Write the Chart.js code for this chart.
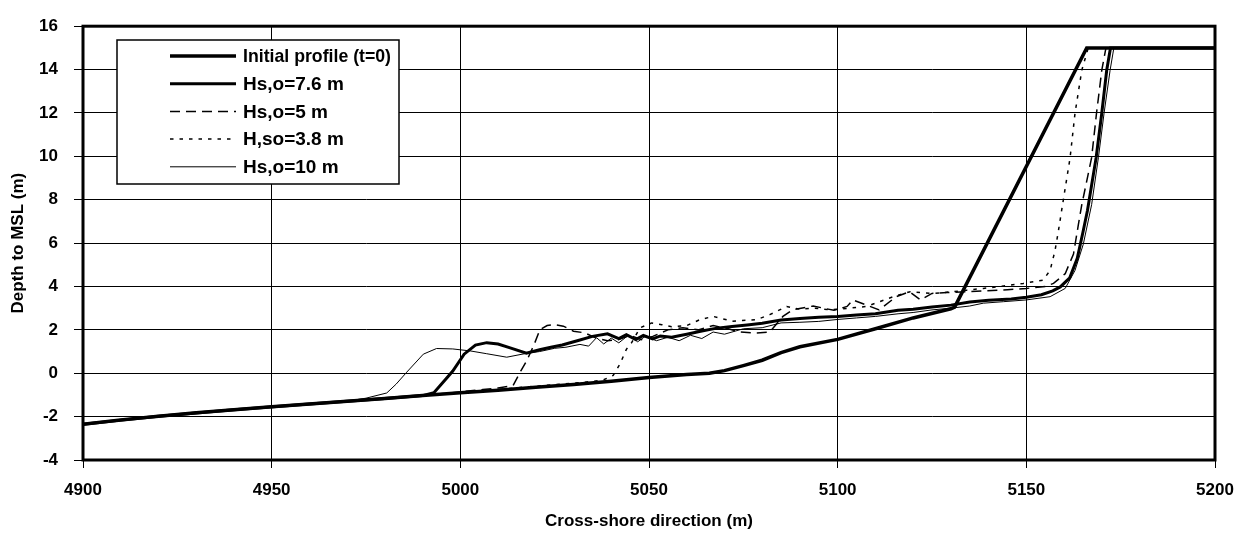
<!DOCTYPE html>
<html>
<head>
<meta charset="utf-8">
<script src="https://cdn.jsdelivr.net/npm/chart.js@4/dist/chart.umd.min.js"></script>
<style>
  html, body { margin: 0; padding: 0; background: #fff; }
  canvas { display: block; }
</style>
</head>
<body>
<canvas id="profileChart" width="1247" height="542"></canvas>
<script>
// Profile data (x = cross-shore position in m, y = depth to MSL in m)
const initialX = [4900, 4910, 4920, 4930, 4940, 4950, 4960, 4970, 4980, 4990, 5000, 5010, 5020, 5030, 5040, 5050, 5060, 5066, 5070, 5075, 5080, 5085, 5090, 5100, 5110, 5120, 5130, 5131, 5166, 5200];
const initialY = [-2.35, -2.15, -1.98, -1.82, -1.68, -1.55, -1.42, -1.29, -1.16, -1.03, -0.9, -0.78, -0.65, -0.52, -0.37, -0.2, -0.06, 0.0, 0.12, 0.35, 0.6, 0.95, 1.22, 1.56, 2.05, 2.55, 2.97, 3.05, 15, 15];

const hs76X = [4900, 4920, 4940, 4960, 4980, 4990, 4993, 4996, 4998, 5001, 5004, 5007, 5010, 5013, 5017.5, 5021, 5024, 5027, 5031, 5035, 5039, 5042, 5044, 5046.5, 5048.5, 5051, 5053, 5056, 5060, 5064, 5068, 5072, 5076, 5080, 5085, 5090, 5095, 5100, 5105, 5110, 5116, 5120, 5125, 5130, 5135, 5140, 5146, 5150, 5154, 5157, 5159, 5161.5, 5163.5, 5165, 5166.2, 5168.5, 5170, 5171.3, 5172.3, 5200];
const hs76Y = [-2.35, -1.98, -1.68, -1.42, -1.16, -1.03, -0.9, -0.3, 0.1, 0.88, 1.3, 1.41, 1.35, 1.18, 0.92, 1.08, 1.2, 1.3, 1.5, 1.7, 1.82, 1.6, 1.78, 1.55, 1.74, 1.58, 1.72, 1.66, 1.8, 1.95, 2.08, 2.15, 2.22, 2.3, 2.45, 2.52, 2.58, 2.62, 2.68, 2.74, 2.9, 2.95, 3.05, 3.14, 3.28, 3.36, 3.42, 3.5, 3.62, 3.8, 3.98, 4.4, 5.3, 6.5, 7.5, 9.94, 12.0, 13.97, 15, 15];

const hs5X = [4900, 4920, 4940, 4960, 4980, 4990, 5000, 5006, 5010, 5014, 5016, 5017.6, 5019.5, 5021.1, 5023, 5025, 5027.3, 5030, 5033, 5036, 5039, 5042, 5045, 5048, 5051, 5055, 5059, 5063, 5067, 5071, 5074, 5078, 5082, 5085.5, 5088, 5093.5, 5099, 5102.5, 5104, 5107.5, 5111, 5115.5, 5119, 5122, 5125, 5129, 5134, 5139, 5145, 5150, 5155, 5157.2, 5160.3, 5162.5, 5163.8, 5164.7, 5167.3, 5168.6, 5170, 5171.1, 5200];
const hs5Y = [-2.35, -1.98, -1.68, -1.42, -1.16, -1.02, -0.86, -0.75, -0.68, -0.56, 0.1, 0.58, 1.3, 2.01, 2.2, 2.24, 2.17, 1.94, 1.86, 1.62, 1.5, 1.55, 1.75, 1.55, 1.7, 2.0, 2.1, 2.0, 2.2, 2.05, 1.9, 1.85, 1.9, 2.62, 2.92, 3.1, 2.9, 3.08, 3.38, 3.15, 2.92, 3.53, 3.76, 3.38, 3.68, 3.72, 3.76, 3.8, 3.85, 3.91, 4.0, 4.14, 4.59, 5.5, 6.86, 7.77, 9.94, 11.99, 13.97, 15, 15];

const hs38X = [4900, 4920, 4940, 4960, 4980, 5000, 5010, 5020, 5030, 5035, 5038, 5040.5, 5042.3, 5044, 5045.4, 5047.6, 5050.7, 5053.4, 5056, 5060, 5063.5, 5067, 5072, 5078.5, 5082, 5086.5, 5090, 5094, 5098, 5103, 5107.7, 5114.7, 5119.2, 5125.3, 5130.7, 5134.2, 5138.6, 5144, 5149.2, 5154.4, 5156.3, 5157.6, 5158.5, 5159.4, 5161.6, 5162.9, 5164.7, 5166.4, 5200];
const hs38Y = [-2.35, -1.98, -1.68, -1.42, -1.16, -0.88, -0.74, -0.6, -0.46, -0.38, -0.3, -0.1, 0.42, 1.1, 1.41, 2.09, 2.32, 2.24, 2.14, 2.2, 2.47, 2.62, 2.4, 2.47, 2.7, 3.08, 2.95, 3.0, 2.92, 3.0, 3.08, 3.53, 3.76, 3.68, 3.76, 3.83, 3.91, 4.02, 4.14, 4.29, 4.74, 5.65, 6.56, 7.55, 9.94, 11.99, 13.97, 15, 15];

const hs10X = [4900, 4920, 4940, 4960, 4970, 4975, 4980.5, 4983, 4985.8, 4990.2, 4993.7, 4998, 5002.6, 5007, 5012.3, 5017.6, 5021, 5025, 5028, 5031.7, 5034, 5036.1, 5038, 5040, 5042, 5044.5, 5047, 5049, 5052, 5055, 5058, 5061, 5064, 5067, 5070, 5075, 5080, 5085, 5090, 5095, 5100, 5105, 5110, 5116, 5120, 5125, 5130, 5135, 5138.6, 5144, 5150, 5156.3, 5160.3, 5162.9, 5165.1, 5167.3, 5169.1, 5170.6, 5172.2, 5173.2, 5200];
const hs10Y = [-2.35, -1.98, -1.68, -1.42, -1.29, -1.15, -0.91, -0.5, 0.05, 0.88, 1.14, 1.12, 1.03, 0.9, 0.74, 0.92, 1.0, 1.15, 1.2, 1.33, 1.25, 1.64, 1.35, 1.62, 1.4, 1.75, 1.45, 1.7, 1.5, 1.66, 1.5, 1.75, 1.6, 1.9, 1.8, 2.05, 2.1, 2.32, 2.35, 2.39, 2.48, 2.55, 2.62, 2.74, 2.8, 2.92, 3.0, 3.1, 3.23, 3.3, 3.38, 3.53, 3.91, 4.74, 5.95, 7.77, 9.94, 11.99, 13.97, 15, 15];

const seriesNames = ['Initial profile (t=0)', 'Hs,o=7.6 m', 'Hs,o=5 m', 'H,so=3.8 m', 'Hs,o=10 m'];
const xTicks = [4900, 4950, 5000, 5050, 5100, 5150, 5200];
const yTicks = [-4, -2, 0, 2, 4, 6, 8, 10, 12, 14, 16];

const pts = (xs, ys) => xs.map((x, i) => ({ x: x, y: ys[i] }));
const FONT = '"Liberation Sans", Arial, sans-serif';

// Legend box drawn like the original (white box with line samples)
const boxLegend = {
    id: 'boxLegend',
    afterDraw(chart) {
        const ctx = chart.ctx;
        const left = 117, top = 40, right = 399, bottom = 184;
        ctx.save();
        ctx.fillStyle = '#fff';
        ctx.fillRect(left, top, right - left, bottom - top);
        ctx.lineWidth = 1.5;
        ctx.strokeStyle = '#000';
        ctx.strokeRect(left, top, right - left, bottom - top);
        ctx.font = 'bold 19px ' + FONT;
        ctx.textBaseline = 'middle';
        ctx.fillStyle = '#000';
        chart.data.datasets.forEach((ds, i) => {
            const y = 56 + i * 27.7;
            ctx.beginPath();
            ctx.lineWidth = ds.borderWidth;
            ctx.setLineDash(ds.borderDash || []);
            ctx.moveTo(170, y);
            ctx.lineTo(236, y);
            ctx.stroke();
            ctx.setLineDash([]);
            ctx.fillText(ds.label, 243, y + 1, 148);
        });
        ctx.restore();
    }
};

// Heavy frame around the plot area
const plotFrame = {
    id: 'plotFrame',
    afterDatasetsDraw(chart) {
        const a = chart.chartArea;
        const ctx = chart.ctx;
        ctx.save();
        ctx.lineWidth = 3;
        ctx.strokeStyle = '#000';
        ctx.strokeRect(a.left, a.top, a.right - a.left, a.bottom - a.top);
        ctx.restore();
    }
};

new Chart(document.getElementById('profileChart'), {
    type: 'line',
    data: {
        datasets: [
            { label: seriesNames[0], data: pts(initialX, initialY), borderColor: '#000', borderWidth: 3.5 },
            { label: seriesNames[1], data: pts(hs76X, hs76Y), borderColor: '#000', borderWidth: 3 },
            { label: seriesNames[2], data: pts(hs5X, hs5Y), borderColor: '#000', borderWidth: 1.5, borderDash: [10, 6] },
            { label: seriesNames[3], data: pts(hs38X, hs38Y), borderColor: '#000', borderWidth: 1.5, borderDash: [3.5, 6] },
            { label: seriesNames[4], data: pts(hs10X, hs10Y), borderColor: '#000', borderWidth: 1 }
        ]
    },
    options: {
        responsive: false,
        animation: false,
        devicePixelRatio: 1,
        layout: { padding: { top: 20, right: 32, left: 0, bottom: 0 } },
        elements: { point: { radius: 0 }, line: { tension: 0, fill: false } },
        plugins: { legend: { display: false }, tooltip: { enabled: false } },
        scales: {
            x: {
                type: 'linear',
                min: 4900, max: 5200,
                afterBuildTicks: s => { s.ticks = xTicks.map(v => ({ value: v })); },
                afterFit: s => { s.height = 82; },
                grid: { color: '#000', lineWidth: 1, tickLength: 8 },
                border: { color: '#000', width: 2 },
                ticks: { color: '#000', font: { family: FONT, size: 17, weight: 'bold' }, padding: 12, maxRotation: 0, callback: v => String(v) },
                title: { display: true, text: 'Cross-shore direction (m)', color: '#000', font: { family: FONT, size: 17, weight: 'bold' }, padding: { top: 0, bottom: 10 } }
            },
            y: {
                min: -4, max: 16,
                afterBuildTicks: s => { s.ticks = yTicks.map(v => ({ value: v })); },
                afterFit: s => { s.width = 83; },
                grid: { color: '#000', lineWidth: 1, tickLength: 9 },
                border: { color: '#000', width: 2 },
                ticks: { color: '#000', font: { family: FONT, size: 17, weight: 'bold' }, padding: 16, callback: v => String(v) },
                title: { display: true, text: 'Depth to MSL (m)', color: '#000', font: { family: FONT, size: 17, weight: 'bold' }, padding: { top: 8, bottom: 0 } }
            }
        }
    },
    plugins: [plotFrame, boxLegend]
});
</script>
</body>
</html>
